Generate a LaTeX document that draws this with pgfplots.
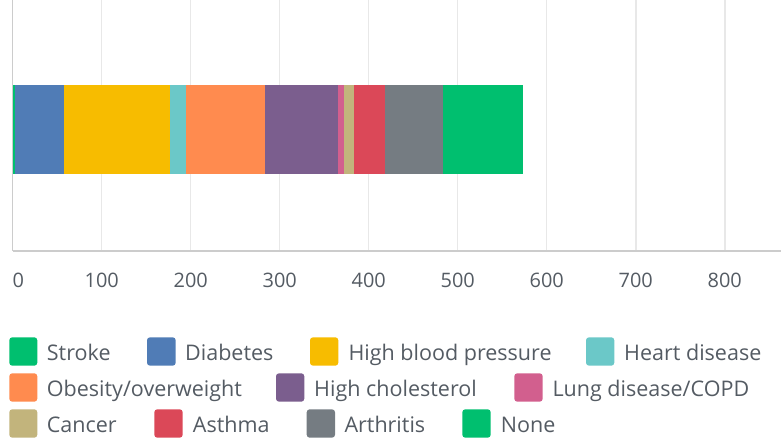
\documentclass[border=0pt]{standalone}
\usepackage{pgfplots}
\pgfplotsset{compat=1.18}
\usepackage{fontspec}
\setmainfont{Open Sans}
\definecolor{cStroke}{HTML}{00BF6F}
\definecolor{cDiab}{HTML}{507CB6}
\definecolor{cHBP}{HTML}{F7BC00}
\definecolor{cHeart}{HTML}{6BC8C8}
\definecolor{cObes}{HTML}{FF8B4F}
\definecolor{cChol}{HTML}{7B5E8E}
\definecolor{cLung}{HTML}{D25F8E}
\definecolor{cCanc}{HTML}{C2B47C}
\definecolor{cAsth}{HTML}{DB4858}
\definecolor{cArth}{HTML}{757C82}
\definecolor{cNone}{HTML}{00BF6F}
\definecolor{txt}{HTML}{545B63}
\begin{document}
\begin{tikzpicture}[x=1bp,y=1bp]
\useasboundingbox (0,0) rectangle (781,440);
\begin{axis}[
  at={(12.7bp,189bp)}, anchor=south west,
  scale only axis, width=769bp, height=251bp,
  xbar stacked, bar width=89bp,
  xmin=0, xmax=864, ymin=-1, ymax=1.064,
  axis x line=bottom, axis y line=left,
  axis line style={-, draw=black!20, line width=1.5bp},
  xtick={0,100,...,800},
  xticklabels={\makebox[0pt][l]{0},100,200,300,400,500,600,700,800},
  ytick=\empty,
  major tick length=0pt,
  xmajorgrids, major grid style={draw=black!9, line width=1.5bp},
  /pgf/number format/assume math mode=true,
  xticklabel style={font=\fontsize{20}{23}\selectfont, text=txt, yshift=-19bp},
  clip=false,
]
\addplot[fill=cStroke, draw=none] coordinates {(3,0)};
\addplot[fill=cDiab, draw=none] coordinates {(55,0)};
\addplot[fill=cHBP, draw=none] coordinates {(119,0)};
\addplot[fill=cHeart, draw=none] coordinates {(18,0)};
\addplot[fill=cObes, draw=none] coordinates {(88,0)};
\addplot[fill=cChol, draw=none] coordinates {(83,0)};
\addplot[fill=cLung, draw=none] coordinates {(6,0)};
\addplot[fill=cCanc, draw=none] coordinates {(12,0)};
\addplot[fill=cAsth, draw=none] coordinates {(34,0)};
\addplot[fill=cArth, draw=none] coordinates {(65,0)};
\addplot[fill=cNone, draw=none] coordinates {(90,0)};
\end{axis}
\begin{scope}[every node/.style={anchor=base west, inner sep=0pt, text=txt, font=\fontsize{21.6}{24}\selectfont}]
% row 1 (y = 440 - pixel row)
\fill[cStroke, rounded corners=3bp] (9.3,102.7) rectangle (37.3,74.3);
\node at (46.7,79.3) {Stroke};
\fill[cDiab, rounded corners=3bp] (147,102.7) rectangle (175.7,74.3);
\node at (185,79.3) {Diabetes};
\fill[cHBP, rounded corners=3bp] (310,102.7) rectangle (338.3,74.3);
\node at (348.3,79.3) {High blood pressure};
\fill[cHeart, rounded corners=3bp] (586,102.7) rectangle (614.3,74.3);
\node at (624,79.3) {Heart disease};
% row 2
\fill[cObes, rounded corners=3bp] (9.3,66.7) rectangle (37.3,38.3);
\node at (46.7,43.3) {Obesity/overweight};
\fill[cChol, rounded corners=3bp] (276,66.7) rectangle (304.3,38.3);
\node at (314,43.3) {High cholesterol};
\fill[cLung, rounded corners=3bp] (514.3,66.7) rectangle (542.7,38.3);
\node at (552.3,43.3) {Lung disease/COPD};
% row 3
\fill[cCanc, rounded corners=3bp] (9.3,30.7) rectangle (37.3,2.3);
\node at (46.7,7.3) {Cancer};
\fill[cAsth, rounded corners=3bp] (154.3,30.7) rectangle (182.7,2.3);
\node at (192.7,7.3) {Asthma};
\fill[cArth, rounded corners=3bp] (306.7,30.7) rectangle (335,2.3);
\node at (344.3,7.3) {Arthritis};
\fill[cNone, rounded corners=3bp] (462.3,30.7) rectangle (490.7,2.3);
\node at (500.7,7.3) {None};
\end{scope}
\end{tikzpicture}
\end{document}
